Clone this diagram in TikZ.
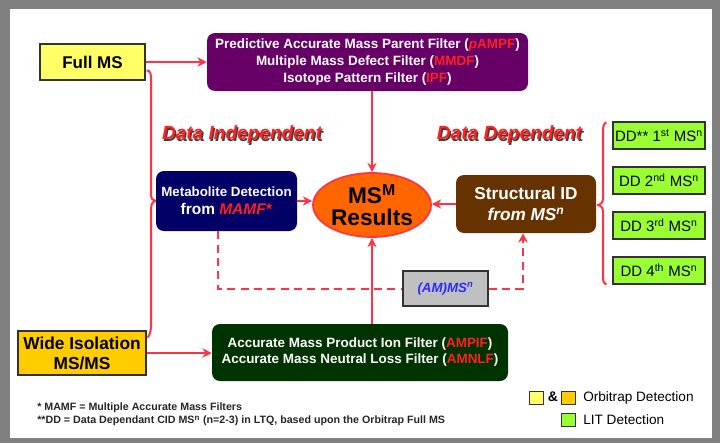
\documentclass[tikz,border=0pt]{standalone}
\usepackage{fontspec}
\setmainfont{Liberation Sans}
\usetikzlibrary{arrows.meta,shapes.geometric,calc}

\definecolor{framegray}{HTML}{808080}
\definecolor{flowred}{HTML}{FF3344}
\definecolor{acr}{HTML}{FF2020}
\definecolor{fullyellow}{HTML}{FFFF66}
\definecolor{wideorange}{HTML}{FFCC00}
\definecolor{filterpurple}{HTML}{660066}
\definecolor{metabnavy}{HTML}{000066}
\definecolor{resorange}{HTML}{FF6600}
\definecolor{structbrown}{HTML}{663300}
\definecolor{accgreen}{HTML}{003300}
\definecolor{ddlime}{HTML}{99FF33}
\definecolor{ammsgray}{HTML}{C0C0C0}
\definecolor{ammsblue}{HTML}{2B2BFF}
\definecolor{edgegray}{HTML}{333333}

\newcommand\fsz[2]{\fontsize{#1}{#2}\selectfont}

\begin{document}
\begin{tikzpicture}[x=0.75pt,y=-0.75pt,
  flow/.style={draw=flowred,line width=1.5pt},
  tipped/.style={-{Stealth[length=7pt,width=7pt]}},
  dashflow/.style={flow,dash pattern=on 6pt off 4pt},
  plainbox/.style={rectangle,draw=edgegray,line width=0.8pt,inner sep=0pt,align=center,font=\bfseries},
  roundbox/.style={rectangle,rounded corners=6pt,inner sep=0pt,align=center,text=white,font=\bfseries},
  ddbox/.style={rectangle,draw=edgegray,line width=0.8pt,fill=ddlime,inner sep=0pt,
    minimum width=69pt,minimum height=20.25pt,font=\fsz{11.25}{13}},
  heading/.style={font=\fsz{14.3}{16}\bfseries\itshape},
  legendsq/.style={rectangle,draw=edgegray,line width=0.6pt,minimum width=10.5pt,minimum height=9.75pt,inner sep=0pt}
]
% frame and page
\fill[framegray] (0,0) rectangle (720,443);
\fill[white] (10,9) rectangle (712,437.5);
\useasboundingbox (0,0) rectangle (720,443);

% sources
\node[plainbox,fill=fullyellow,minimum width=78.75pt,minimum height=27pt,font=\fsz{12.75}{15}\bfseries]
  (fullms) at (92.5,62) {Full MS};
\node[plainbox,fill=wideorange,minimum width=96pt,minimum height=33pt,font=\fsz{13}{15}\bfseries]
  (wide) at (82,353) {Wide Isolation\\MS/MS};

% filter boxes
\node[roundbox,fill=filterpurple,minimum width=240.75pt,minimum height=43.5pt,font=\fsz{10.1}{12.4}\bfseries]
  (filters) at (367.5,62)
  {Predictive Accurate Mass Parent Filter (\textcolor{acr}{\textit{p}AMPF})\\
   Multiple Mass Defect Filter (\textcolor{acr}{MMDF})\\
   Isotope Pattern Filter (\textcolor{acr}{IPF})};
\node[roundbox,fill=accgreen,minimum width=222pt,minimum height=42.75pt,font=\fsz{10.1}{12}\bfseries]
  (acc) at (360,352.5)
  {Accurate Mass Product Ion Filter (\textcolor{acr}{AMPIF})\\
   Accurate Mass Neutral Loss Filter (\textcolor{acr}{AMNLF})};

% processing boxes
\node[roundbox,fill=metabnavy,minimum width=105.75pt,minimum height=45pt,font=\fsz{10}{13.5}\bfseries]
  (metab) at (226.5,201)
  {Metabolite Detection\\{\fsz{11.6}{13.5}\bfseries from \textcolor{acr}{\textit{MAMF*}}}};
\node[ellipse,draw=flowred,line width=1.3pt,fill=resorange,minimum width=88.5pt,minimum height=48pt,
  inner sep=0pt,align=center,font=\fsz{17}{16}\bfseries]
  (res) at (372,205) {MS\textsuperscript{M}\\Results};
\node[roundbox,fill=structbrown,minimum width=105pt,minimum height=43.5pt,font=\fsz{12.9}{15.75}\bfseries]
  (struct) at (526,204) {Structural ID\\\textit{from MS\textsuperscript{n}}};
\node[plainbox,fill=ammsgray,minimum width=63.75pt,minimum height=26.25pt,
  font=\fsz{10}{12}\bfseries\itshape,text=ammsblue]
  (amms) at (445.5,288.5) {(AM)MS\textsuperscript{n}};

% data dependent scans
\node[ddbox] (dd1) at (659,135.5) {DD** 1\textsuperscript{st} MS\textsuperscript{n}};
\node[ddbox] (dd2) at (659,180.5) {DD 2\textsuperscript{nd} MS\textsuperscript{n}};
\node[ddbox] (dd3) at (659,225.5) {DD 3\textsuperscript{rd} MS\textsuperscript{n}};
\node[ddbox] (dd4) at (659,270.5) {DD 4\textsuperscript{th} MS\textsuperscript{n}};

% section headings with drop shadow
\node[heading,text=black!75] (indepshadow) at (243.3,136.3) {Data Independent};
\node[heading,text=acr] (indep) at (242,135) {Data Independent};
\node[heading,text=black!75] (depshadow) at (510.8,136.3) {Data Dependent};
\node[heading,text=acr] (dep) at (509.5,135) {Data Dependent};

% solid connectors
\draw[flow,tipped] (fullms.east) -- (filters.west |- fullms.east);
\draw[flow,tipped] (wide.east) -- (acc.west |- wide.east);
\draw[flow,tipped] (res.north |- filters.south) -- (res.north);
\draw[flow,tipped] (res.south |- acc.north) -- (res.south);
\draw[flow,tipped] (metab.east) -- (res.west |- metab.east);
\draw[flow,tipped] (struct.west) -- (res.east |- struct.west);

% dashed MSn loop
\coordinate (loopstart) at ($(metab.south)+(-8.5,0)$);
\coordinate (loopend) at ($(struct.south)+(-3,0)$);
\draw[dashflow] (loopstart) -- (loopstart |- amms.west) -- (amms.west);
\draw[dashflow,tipped] (amms.east) -- (loopend |- amms.east) -- (loopend);

% left brace joining both sources to metabolite detection
\coordinate (lbtip) at (metab.west);
\draw[flow] ($(fullms.south east)+(1,-10)$) .. controls (150,70) and (151,73) .. (151,79)
  -- (151,194) .. controls (151,199) and (153,201) .. (lbtip);
\draw[flow] (lbtip) .. controls (153,201) and (151,204) .. (151,209)
  -- (151,326) .. controls (151,332) and (149,336) .. ($(wide.north east)+(1,7)$);

% right brace joining structural ID to the DD scans
\coordinate (rbtip) at ($(struct.east)+(1,1)$);
\draw[flow] ($(dd1.north west)+(-6,1)$) .. controls (604,123) and (603,126) .. (603,131)
  -- (603,198) .. controls (603,202) and (601,205) .. (rbtip);
\draw[flow] (rbtip) .. controls (601,205) and (603,208) .. (603,212)
  -- (603,277) .. controls (603,282) and (604,284) .. ($(dd4.south west)+(-6,0)$);

% footnotes
\node[anchor=west,inner sep=0pt,font=\fsz{8}{9.75}\bfseries,text=black!85] (note1) at (37,408)
  {* MAMF = Multiple Accurate Mass Filters};
\node[anchor=west,inner sep=0pt,font=\fsz{8}{9.75}\bfseries,text=black!85] (note2) at (37,421)
  {**DD = Data Dependant CID MS\textsuperscript{n} (n=2-3) in LTQ, based upon the Orbitrap Full MS};

% legend
\node[legendsq,fill=fullyellow] (lgyellow) at (536,397.5) {};
\node[inner sep=0pt,font=\fsz{10.5}{12}\bfseries] (lgamp) at (553,397) {\&};
\node[legendsq,fill=wideorange] (lgorange) at (568,397.5) {};
\node[legendsq,fill=ddlime] (lggreen) at (568,420) {};
\node[anchor=west,inner sep=0pt,font=\fsz{10.2}{12}] (lgorbi) at (583,398) {Orbitrap Detection};
\node[anchor=west,inner sep=0pt,font=\fsz{10.2}{12}] (lglit) at (583,420) {LIT Detection};
\end{tikzpicture}
\end{document}
